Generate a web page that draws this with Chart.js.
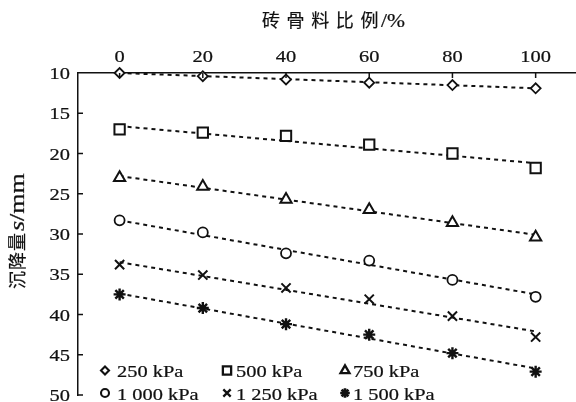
<!DOCTYPE html>
<html>
<head>
<meta charset="utf-8">
<script src="https://cdn.jsdelivr.net/npm/chart.js@4/dist/chart.umd.min.js"></script>
<style>
html,body{margin:0;padding:0;background:#fff;overflow:hidden;}
canvas{display:block;}
</style>
</head>
<body>
<canvas id="c" width="576" height="402"></canvas>
<script>
// ---- data ----
const ratios = [0, 20, 40, 60, 80, 100];
const xTicks = [0, 20, 40, 60, 80, 100];
const yTicks = [10, 15, 20, 25, 30, 35, 40, 45, 50];
const labels = ['250 kPa', '500 kPa', '750 kPa', '1 000 kPa', '1 250 kPa', '1 500 kPa'];
const s250  = [10.0, 10.4, 10.8, 11.2, 11.5, 11.9];
const s500  = [17.0, 17.4, 17.8, 18.9, 20.0, 21.8];
const s750  = [23.0, 24.1, 25.7, 27.0, 28.6, 30.4];
const s1000 = [28.3, 29.8, 32.4, 33.3, 35.7, 37.8];
const s1250 = [33.8, 35.1, 36.7, 38.1, 40.2, 42.8];
const s1500 = [37.5, 39.2, 41.2, 42.5, 44.8, 47.1];
// trend line end values (at 0 % and 100 %)
const trendStart = [10.0, 16.6, 22.8, 28.3, 33.5, 37.4];
const trendEnd   = [11.9, 21.2, 30.1, 37.5, 42.1, 46.7];
const xTitle = '砖骨料比例/%';

const series = [s250, s500, s750, s1000, s1250, s1500];
const styles = [
  {pointStyle: 'rectRot', radius: 5, bw: 1.8},
  {pointStyle: 'rect', radius: 7.3, bw: 2},
  {pointStyle: 'triangle', radius: 6.5, bw: 2},
  {pointStyle: 'circle', radius: 5, bw: 1.8},
  {pointStyle: 'crossRot', radius: 6.5, bw: 2},
  {pointStyle: 'star', radius: 6, bw: 2.4}
];

const datasets = [];
series.forEach((vals, i) => {
  datasets.push({
    label: labels[i],
    data: ratios.map((r, k) => ({x: r, y: vals[k]})),
    showLine: false,
    pointStyle: styles[i].pointStyle,
    pointRadius: styles[i].radius,
    pointBorderWidth: styles[i].bw,
    borderColor: '#111',
    backgroundColor: '#fff',
    pointBackgroundColor: '#fff',
    pointBorderColor: '#111',
    order: 0,
    clip: false
  });
});
series.forEach((vals, i) => {
  datasets.push({
    label: 'trend ' + labels[i],
    type: 'line',
    data: [{x: ratios[0], y: trendStart[i]}, {x: ratios[ratios.length - 1], y: trendEnd[i]}],
    showLine: true,
    pointRadius: 0,
    borderColor: '#111',
    borderWidth: 2,
    borderDash: [4, 4],
    fill: false,
    order: 1
  });
});

const SERIF = '"Liberation Serif", "Times New Roman", serif';
const CJK = '"Noto Sans CJK SC", sans-serif';

function sText(ctx, t, x, y, align, font, sx, baseline, bold) {
  ctx.save();
  ctx.font = font;
  ctx.textBaseline = baseline || 'alphabetic';
  const w = ctx.measureText(t).width * sx;
  const x0 = align === 'center' ? x - w / 2 : (align === 'right' ? x - w : x);
  ctx.translate(x0, y);
  ctx.scale(sx, 1);
  ctx.textAlign = 'left';
  ctx.fillStyle = '#111';
  ctx.fillText(t, 0, 0);
  if (bold !== 0) {
    ctx.strokeStyle = '#111';
    ctx.lineWidth = bold || 0.22;
    ctx.strokeText(t, 0, 0);
  }
  ctx.restore();
  return w;
}

const deco = {
  id: 'deco',
  beforeDraw(chart) {
    const ctx = chart.ctx;
    ctx.save();
    ctx.fillStyle = '#fff';
    ctx.fillRect(0, 0, chart.width, chart.height);
    ctx.restore();
  },
  afterDraw(chart) {
    const ctx = chart.ctx;
    const xs = chart.scales.x, ys = chart.scales.y;
    const a = chart.chartArea;
    ctx.save();
    ctx.strokeStyle = '#111';
    ctx.lineWidth = 1.5;
    // inward ticks + tick labels
    xs.ticks.forEach(t => {
      const px = xs.getPixelForValue(t.value);
      ctx.beginPath(); ctx.moveTo(px, a.top); ctx.lineTo(px, a.top + 5); ctx.stroke();
      sText(ctx, String(t.value), px, 62, 'center', '17px ' + SERIF, 1.2);
    });
    ys.ticks.forEach(t => {
      const py = ys.getPixelForValue(t.value);
      if (t.value !== yTicks[0]) {
        ctx.beginPath(); ctx.moveTo(a.left, py); ctx.lineTo(a.left + 5, py); ctx.stroke();
      }
      sText(ctx, String(t.value), 70, py + 6, 'right', '17px ' + SERIF, 1.2);
    });
    // x title (top)
    {
      const chars = Array.from(xTitle.slice(0, 5));
      let x = 262;
      chars.forEach(ch => {
        sText(ctx, ch, x, 20, 'left', '18px ' + CJK, 1.0, 'middle', 0.2);
        x += 24.6;
      });
      sText(ctx, xTitle.slice(5), x - 4, 27, 'left', '18px ' + SERIF, 1.2);
    }
    // y title (rotated)
    {
      ctx.save();
      ctx.translate(17, 231);
      ctx.rotate(-Math.PI / 2);
      let x = -58;
      ['沉', '降', '量'].forEach(ch => {
        sText(ctx, ch, x, 0, 'left', '18px ' + CJK, 1.0, 'middle', 0.2);
        x += 19;
      });
      x += 1;
      const w1 = sText(ctx, 's', x, 7, 'left', 'italic 20px ' + SERIF, 1.3);
      sText(ctx, '/mm', x + w1, 7, 'left', '20px ' + SERIF, 1.3);
      ctx.restore();
    }
    // legend
    const mx = [105, 227, 345];
    const tx = [117, 236, 353];
    const my = [370.5, 393];
    const ty = [377, 400];
    for (let i = 0; i < 6; i++) {
      const row = Math.floor(i / 3), col = i % 3;
      const st = styles[i];
      ctx.save();
      ctx.strokeStyle = '#111';
      ctx.fillStyle = '#fff';
      ctx.lineWidth = st.bw + 0.3;
      Chart.helpers.drawPoint(ctx, {pointStyle: st.pointStyle, radius: st.radius * 0.8, borderWidth: st.bw + 0.3, rotation: 0}, mx[col], my[row]);
      ctx.restore();
      sText(ctx, labels[i], tx[col], ty[row], 'left', '17px ' + SERIF, 1.2);
    }
    ctx.restore();
  }
};

new Chart(document.getElementById('c'), {
  type: 'scatter',
  data: {datasets},
  options: {
    responsive: false,
    animation: false,
    devicePixelRatio: 1,
    layout: {autoPadding: false, padding: {top: 0, left: 0, right: 0, bottom: 7}},
    plugins: {legend: {display: false}, tooltip: {enabled: false}},
    scales: {
      x: {
        type: 'linear', position: 'top', min: -10, max: 109.7,
        grid: {display: false},
        border: {display: true, color: '#111', width: 1.5},
        ticks: {display: false},
        afterBuildTicks: s => { s.ticks = xTicks.map(v => ({value: v})); },
        afterFit: s => { s.height = 73; }
      },
      y: {
        type: 'linear', position: 'left', reverse: true, min: 10, max: 50,
        grid: {display: false},
        border: {display: true, color: '#111', width: 1.5},
        ticks: {display: false},
        afterBuildTicks: s => { s.ticks = yTicks.map(v => ({value: v})); },
        afterFit: s => { s.width = 78; }
      }
    }
  },
  plugins: [deco]
});
</script>
</body>
</html>
